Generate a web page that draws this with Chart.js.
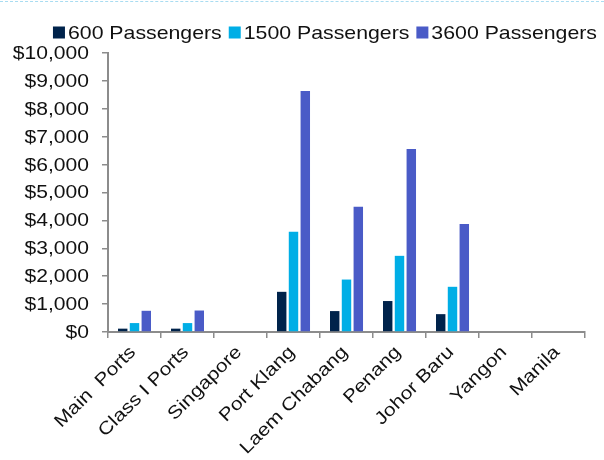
<!DOCTYPE html>
<html>
<head>
<meta charset="utf-8">
<script src="https://cdn.jsdelivr.net/npm/chart.js@4/dist/chart.umd.min.js"></script>
<style>
  html, body { margin: 0; padding: 0; background: #fff; }
  #wrap { position: relative; width: 604px; height: 460px; overflow: hidden; }
  #topline { position: absolute; left: 0; top: 1px; width: 604px; border-top: 1px dashed #a9dcf1; }
  canvas { display: block; }
</style>
</head>
<body>
<div id="wrap">
  <canvas id="chart" width="604" height="460"></canvas>
  <div id="topline"></div>
</div>
<script>
// Port categories along the x axis
const categories = ['Main  Ports', 'Class I Ports', 'Singapore', 'Port Klang', 'Laem Chabang',
                    'Penang', 'Johor Baru', 'Yangon', 'Manila'];

// Series names and values (US$)
const seriesNames = ['600 Passengers', '1500 Passengers', '3600 Passengers'];
const pax600  = [120, 120, 0, 1440, 750, 1110, 640, 0, 0];
const pax1500 = [320, 320, 0, 3590, 1880, 2730, 1620, 0, 0];
const pax3600 = [760, 770, 0, 8640, 4490, 6560, 3870, 0, 0];

// Value axis ticks
const yMin = 0;
const yMax = 10000;
const yStep = 1000;

const seriesColors = ['#00234b', '#00aee6', '#4a5bc7'];
const axisColor = '#8c8c8c';
const textColor = '#111';
const FONT = '"Liberation Sans", Arial, sans-serif';
const AXIS_WIDE = 1.17;   // horizontal glyph scale of axis labels
const LEGEND_WIDE = 1.12; // horizontal glyph scale of legend labels

const money = v => '$' + Number(v).toLocaleString('en-US');

// Draws tick labels and legend with slightly widened glyphs
const wideLabels = {
  id: 'wideLabels',
  afterDraw(chart) {
    const ctx = chart.ctx;
    const ys = chart.scales.y;
    const xs = chart.scales.x;
    ctx.save();
    ctx.fillStyle = textColor;

    // value axis labels
    ctx.font = '18px ' + FONT;
    ctx.textAlign = 'right';
    ctx.textBaseline = 'middle';
    ys.ticks.forEach((t, i) => {
      const y = ys.getPixelForTick(i);
      ctx.save();
      ctx.translate(ys.right - 19, y + 1);
      ctx.scale(AXIS_WIDE, 1);
      ctx.fillText(money(t.value), 0, 0);
      ctx.restore();
    });

    // category labels, rotated 45 degrees
    ctx.textBaseline = 'alphabetic';
    xs.ticks.forEach((t, i) => {
      const x = xs.getPixelForTick(i);
      ctx.save();
      ctx.translate(x + 2, xs.top + 21);
      ctx.rotate(-Math.PI / 4);
      ctx.scale(AXIS_WIDE, 1);
      ctx.fillText(xs.getLabelForValue(t.value), 0, 0);
      ctx.restore();
    });

    // legend
    ctx.font = '19px ' + FONT;
    ctx.textAlign = 'left';
    const sets = chart.data.datasets;
    const box = 12, gap = 3, spacing = 7;
    const widths = sets.map(d => ctx.measureText(d.label).width * LEGEND_WIDE);
    const total = widths.reduce((a, w) => a + box + gap + w, 0) + spacing * (sets.length - 1);
    let x = 597 - total;
    sets.forEach((d, i) => {
      ctx.fillStyle = d.backgroundColor;
      ctx.fillRect(x, 26.5, box, box);
      x += box + gap;
      ctx.fillStyle = textColor;
      ctx.save();
      ctx.translate(x, 38.5);
      ctx.scale(LEGEND_WIDE, 1);
      ctx.fillText(d.label, 0, 0);
      ctx.restore();
      x += widths[i] + spacing;
    });
    ctx.restore();
  }
};

const seriesData = [pax600, pax1500, pax3600];

new Chart(document.getElementById('chart'), {
  type: 'bar',
  data: {
    labels: categories,
    datasets: seriesNames.map((name, i) => ({
      label: name,
      data: seriesData[i],
      backgroundColor: seriesColors[i],
      borderWidth: 0,
      categoryPercentage: 0.668,
      barPercentage: 0.8
    }))
  },
  options: {
    responsive: false,
    animation: false,
    layout: { padding: { top: 53, right: 19, left: 0, bottom: 0 } },
    plugins: { legend: { display: false }, tooltip: { enabled: false } },
    scales: {
      x: {
        grid: { display: true, drawOnChartArea: false, drawTicks: true, tickLength: 6,
                color: axisColor, lineWidth: 1.5, offset: true },
        border: { display: true, color: axisColor, width: 2 },
        ticks: { display: false },
        afterFit(s) { s.height = 128; }
      },
      y: {
        min: yMin,
        max: yMax,
        ticks: { display: false, stepSize: yStep },
        grid: { display: true, drawOnChartArea: false, drawTicks: true, tickLength: 6,
                color: axisColor, lineWidth: 1.5 },
        border: { display: true, color: axisColor, width: 2 },
        afterFit(s) { s.width = 108; }
      }
    }
  },
  plugins: [wideLabels]
});
</script>
</body>
</html>
